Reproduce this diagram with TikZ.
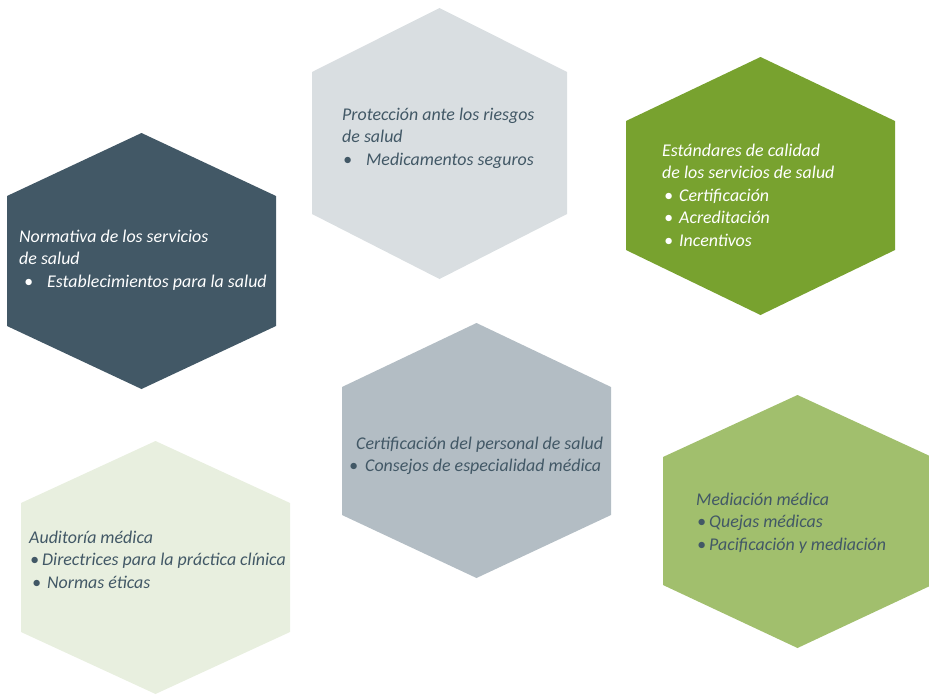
\documentclass[tikz,border=0pt]{standalone}
\usepackage{fontspec}
\setmainfont{Carlito}
\usepackage{xcolor}
\usepackage{tikz}

\definecolor{slate}{HTML}{425866}
\definecolor{mist}{HTML}{D9DEE1}
\definecolor{leaf}{HTML}{78A22F}
\definecolor{steel}{HTML}{B3BDC4}
\definecolor{pale}{HTML}{E8EFDF}
\definecolor{moss}{HTML}{A1BF6D}

% bullet in a box of width #1, shifted by #2
\newcommand{\bul}[2]{\makebox[#1][l]{\hspace*{#2}\textbullet}}

\begin{document}
\begin{tikzpicture}[x=1pt, y=-1pt, txt/.style = {anchor=base west, align=left, inner sep=0pt, font=\fontsize{17.9}{22.5}\selectfont\itshape}]

    \clip (0, 0) rectangle (929, 694);

    % hexagons: top, upper right, lower right, bottom, lower left, upper left
    \fill[slate] (141.5, 133) -- (276, 196) -- (276, 326) -- (141.5, 389) -- (7, 326) -- (7, 196) -- cycle;
    \fill[mist] (439.5, 8) -- (567, 72) -- (567, 214) -- (439.5, 279) -- (312, 214) -- (312, 72) -- cycle;
    \fill[leaf] (760.5, 57) -- (895, 121) -- (895, 250) -- (760.5, 315) -- (626, 250) -- (626, 121) -- cycle;
    \fill[steel] (476.5, 323) -- (611, 387) -- (611, 515) -- (476.5, 578) -- (342, 515) -- (342, 387) -- cycle;
    \fill[pale] (155.5, 441) -- (290, 503) -- (290, 632) -- (155.5, 694) -- (21, 632) -- (21, 503) -- cycle;
    \fill[moss] (797.5, 395) -- (932, 457) -- (932, 585) -- (797.5, 648) -- (663, 585) -- (663, 457) -- cycle;

    % texts, placed at the baseline of their last line
    \node [txt, text=white] (normativa) at (19, 287) {Normativa de los servicios\\de salud\\\bul{28pt}{5pt}Establecimientos para la salud};
    \node [txt, text=slate] (proteccion) at (342, 165) {Protección ante los riesgos\\de salud\\\bul{24pt}{1pt}Medicamentos seguros};
    \node [txt, text=white] (estandares) at (662, 246) {Estándares de calidad\\de los servicios de salud\\\bul{17pt}{2pt}Certificación\\\bul{17pt}{2pt}Acreditación\\\bul{17pt}{2pt}Incentivos};
    \node [txt, text=slate] (certificacion) at (349, 471.5) {\hspace*{7pt}Certificación del personal de salud\\\bul{16pt}{0pt}Consejos de especialidad médica};
    \node [txt, text=slate] (auditoria) at (29, 588) {Auditoría médica\\\bul{13pt}{1pt}Directrices para la práctica clínica\\\bul{18pt}{3pt}Normas éticas};
    \node [txt, text=slate] (mediacion) at (696, 550) {Mediación médica\\\bul{13pt}{1pt}Quejas médicas\\\bul{13pt}{1pt}Pacificación y mediación};

\end{tikzpicture}
\end{document}
